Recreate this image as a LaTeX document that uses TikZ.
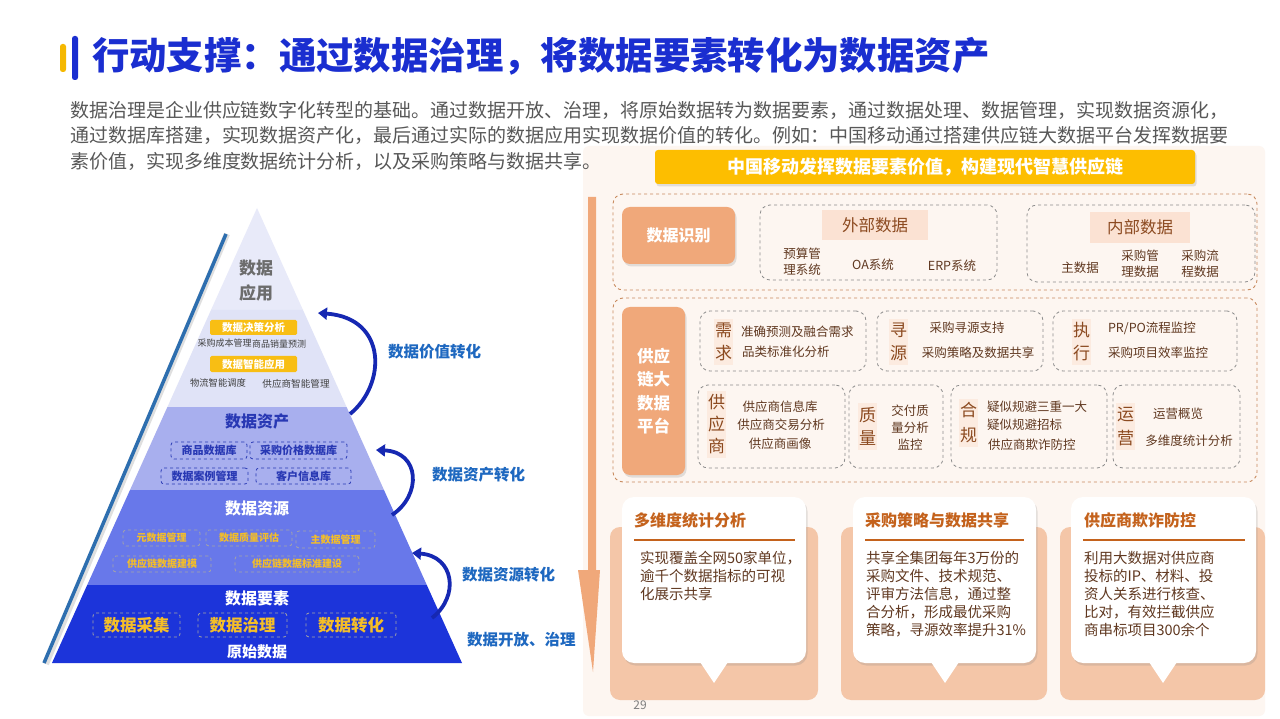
\documentclass[tikz,border=0pt]{standalone}
\usepackage{fontspec}
\setmainfont{Noto Sans CJK SC}
\usetikzlibrary{shadows,arrows.meta}
\definecolor{tblue}{RGB}{26,46,208}
\definecolor{tyel}{RGB}{245,184,0}
\definecolor{ptxt}{RGB}{88,88,88}
\definecolor{lay1}{RGB}{232,234,249}
\definecolor{lay1b}{RGB}{224,227,247}
\definecolor{lay2}{RGB}{168,175,238}
\definecolor{lay3}{RGB}{104,120,234}
\definecolor{lay4}{RGB}{28,52,218}
\definecolor{arrblue}{RGB}{22,40,178}
\definecolor{lblue}{RGB}{30,104,192}
\definecolor{stripe}{RGB}{45,110,175}
\definecolor{ybar}{RGB}{248,190,20}
\definecolor{yeltxt}{RGB}{244,190,40}
\definecolor{dblue}{RGB}{40,56,180}
\definecolor{panel}{RGB}{253,246,241}
\definecolor{salmon}{RGB}{240,168,122}
\definecolor{odash}{RGB}{200,138,94}
\definecolor{gdash}{RGB}{140,140,140}
\definecolor{tagfill}{RGB}{251,226,211}
\definecolor{brown}{RGB}{140,74,32}
\definecolor{dbrown}{RGB}{96,56,32}
\definecolor{peach}{RGB}{244,198,168}
\definecolor{orhead}{RGB}{196,98,28}
\definecolor{banner}{RGB}{253,190,0}
\newcommand\fsz[2]{\fontsize{#1}{#2}\selectfont}
\newcommand\RB[6]{\node[#6, inner sep=0pt, outer sep=0pt, minimum width={(#4)-(#2)}, minimum height={(#5)-(#3)}] (#1) at ({((#2)+(#4))/2},{((#3)+(#5))/2}) {};}
\tikzset{
  tx/.style={inner sep=0pt, outer sep=0pt},
  shad/.style={drop shadow={opacity=0.22, shadow xshift=1.5pt, shadow yshift=-2.5pt}},
  ybox/.style={fill=ybar, rounded corners=1.5},
  bdash/.style={draw=dblue, dashed, line width=0.8pt, rounded corners=3},
  gbox/.style={draw=gray!70, dashed, line width=0.8pt, rounded corners=3},
  odbox/.style={draw=odash, dashed, line width=0.9pt, rounded corners=10},
  gdbox/.style={draw=gdash, dashed, line width=0.8pt, rounded corners=10},
  tagbox/.style={fill=tagfill},
  sbox/.style={fill=salmon, rounded corners=8},
  carrow/.style={arrblue, line width=3.8pt, -{Triangle[length=9pt,width=12pt]}},
  lbl/.style={tx, anchor=west, text=lblue, font=\fsz{15.5}{18}\bfseries},
  itm/.style={tx, text=dbrown, font=\fsz{12.5}{16}},
  big/.style={tx, text=brown, align=center, font=\fsz{17}{23}},
  body/.style={tx, anchor=north west, align=left, text=dbrown, font=\fsz{14.5}{18}},
  chead/.style={tx, anchor=west, text=orhead, font=\fsz{16}{19}\bfseries},
}
\begin{document}
\begin{tikzpicture}[x=1pt,y=-1pt]
\useasboundingbox (0,0) rectangle (1280,719);
\fill[white] (0,0) rectangle (1280,719);
% ---------- right panel background ----------
\fill[panel, rounded corners=6] (583,146) rectangle (1265,716);
% ---------- title ----------
\fill[tyel, rounded corners=2.5] (60,44) rectangle (66,72);
\fill[tblue, rounded corners=2.5] (72,36) rectangle (78,80);
\node[tx, anchor=west, text=tblue, font=\fsz{37.4}{42}\bfseries] (title) at (92,56) {行动支撑：通过数据治理，将数据要素转化为数据资产};
\node[tx, anchor=west, text=ptxt, font=\fsz{19}{23}] (p1) at (70,110) {数据治理是企业供应链数字化转型的基础。通过数据开放、治理，将原始数据转为数据要素，通过数据处理、数据管理，实现数据资源化，};
\node[tx, anchor=west, text=ptxt, font=\fsz{19}{23}] (p2) at (70,135.5) {通过数据库搭建，实现数据资产化，最后通过实际的数据应用实现数据价值的转化。例如：中国移动通过搭建供应链大数据平台发挥数据要};
\node[tx, anchor=west, text=ptxt, font=\fsz{19}{23}] (p3) at (70,161) {素价值，实现多维度数据统计分析，以及采购策略与数据共享。};
% ---------- pyramid ----------
\fill[lay1] (257,208) -- (303,310) -- (211,310) -- cycle;
\fill[lay1b] (211,310) -- (303,310) -- (346.6,407) -- (167.4,407) -- cycle;
\fill[lay2] (167.4,407) -- (346.6,407) -- (384,490) -- (130,490) -- cycle;
\fill[lay3] (130,490) -- (384,490) -- (426.8,585) -- (87.2,585) -- cycle;
\fill[lay4] (87.2,585) -- (426.8,585) -- (462,663) -- (52,663) -- cycle;
\draw[gray!25, line width=6pt] (46,664) -- (227,234);
\draw[stripe, line width=3.5pt] (44,663) -- (226,234);
% top layer
\node[tx, text=gray!85!black, align=center, font=\fsz{17}{25}\bfseries] (app) at (256,281) {数据\\应用};
\RB{yb1}{210}{320}{297}{335}{ybox}
\node[tx, text=white, font=\fsz{10.5}{12}\bfseries] (yb1t) at (yb1) {数据决策分析};
\node[tx, text=black!75, font=\fsz{9}{11}] (a1) at (224.5,343.5) {采购成本管理};
\node[tx, text=black!75, font=\fsz{9}{11}] (a2) at (279,344) {商品销量预测};
\RB{yb2}{210}{356}{297}{372}{ybox}
\node[tx, text=white, font=\fsz{10.5}{12}\bfseries] (yb2t) at (yb2) {数据智能应用};
\node[tx, text=black!75, font=\fsz{9.3}{11}] (a3) at (218,383) {物流智能调度};
\node[tx, text=black!75, font=\fsz{9.6}{11}] (a4) at (296,384) {供应商智能管理};
% asset layer
\node[tx, text=dblue, font=\fsz{16}{19}\bfseries] (asset) at (257,421) {数据资产};
\RB{b1}{171}{442}{247}{459}{bdash}
\RB{b2}{250}{442}{347}{459}{bdash}
\RB{b3}{161}{468}{248}{484}{bdash}
\RB{b4}{256}{468}{351}{484}{bdash}
\node[tx, text=dblue, font=\fsz{11}{13}\bfseries] at (b1) {商品数据库};
\node[tx, text=dblue, font=\fsz{11}{13}\bfseries] at (b2) {采购价格数据库};
\node[tx, text=dblue, font=\fsz{11}{13}\bfseries] at (b3) {数据案例管理};
\node[tx, text=dblue, font=\fsz{11}{13}\bfseries] at (b4) {客户信息库};
% resource layer
\node[tx, text=white, font=\fsz{16}{19}\bfseries] (res) at (257,508) {数据资源};
\RB{r1}{123}{530}{200}{546}{gbox}
\RB{r2}{206}{530}{292}{546}{gbox}
\RB{r3}{296}{531}{375}{548}{gbox}
\RB{r4}{113}{556}{211}{572}{gbox}
\RB{r5}{235}{556}{359}{572}{gbox}
\node[tx, text=yeltxt, font=\fsz{10}{12}\bfseries] at (r1) {元数据管理};
\node[tx, text=yeltxt, font=\fsz{10}{12}\bfseries] at (r2) {数据质量评估};
\node[tx, text=yeltxt, font=\fsz{10}{12}\bfseries] at (r3) {主数据管理};
\node[tx, text=yeltxt, font=\fsz{10}{12}\bfseries] at (r4) {供应链数据建模};
\node[tx, text=yeltxt, font=\fsz{10}{12}\bfseries] at (r5) {供应链数据标准建设};
% element layer
\node[tx, text=white, font=\fsz{16}{19}\bfseries] (elem) at (257,598) {数据要素};
\RB{e1}{93}{613}{180}{637}{gbox}
\RB{e2}{198}{613}{287}{637}{gbox}
\RB{e3}{306}{613}{396}{637}{gbox}
\node[tx, text=yeltxt, font=\fsz{16.5}{19}\bfseries] at (e1) {数据采集};
\node[tx, text=yeltxt, font=\fsz{16.5}{19}\bfseries] at (e2) {数据治理};
\node[tx, text=yeltxt, font=\fsz{16.5}{19}\bfseries] at (e3) {数据转化};
\node[tx, text=white, font=\fsz{15}{18}\bfseries] (raw) at (257,652) {原始数据};
% curved arrows
\coordinate (s1) at (350,414); \coordinate (t1) at (318,313);
\coordinate (s2) at (392,515); \coordinate (t2) at (376,450);
\coordinate (s3) at (432,618); \coordinate (t3) at (412,553);
\draw[carrow] (s1) .. controls (386,385) and (388,318) .. (t1);
\draw[carrow] (s2) .. controls (422,495) and (420,452) .. (t2);
\draw[carrow] (s3) .. controls (460,596) and (454,556) .. (t3);
\node[lbl] (l1) at (388,352) {数据价值转化};
\node[lbl] (l2) at (432,475) {数据资产转化};
\node[lbl] (l3) at (462,575) {数据资源转化};
\node[lbl] (l4) at (467,640) {数据开放、治理};
% ---------- right panel ----------
\fill[salmon] (588,197) -- (596,197) -- (596,570) -- (600,570) -- (593,672) -- (578,570) -- (588,570) -- cycle;
\RB{ban}{655}{150}{1195}{184}{fill=banner, rounded corners=3, shad}
\node[tx, text=white, font=\fsz{18}{21}\bfseries] (bant) at (ban) {中国移动发挥数据要素价值，构建现代智慧供应链};
% row: data identification
\RB{o1}{613}{194}{1257}{290}{odbox}
\RB{di}{622}{207}{735}{264}{sbox, shad}
\node[tx, text=white, font=\fsz{16}{19}\bfseries] at (di) {数据识别};
\RB{ext}{760}{205}{997}{280}{gdbox}
\RB{extt}{822}{210}{928}{240}{tagbox}
\node[tx, text=brown, font=\fsz{16.5}{19}] at (extt) {外部数据};
\node[itm, align=center] (x1) at (802,262) {预算管\\理系统};
\node[itm] (x2) at (873,265) {OA系统};
\node[itm] (x3) at (952,266) {ERP系统};
\RB{int}{1027}{205}{1255}{282}{gdbox}
\RB{intt}{1090}{212}{1190}{243}{tagbox}
\node[tx, text=brown, font=\fsz{16.5}{19}] at (intt) {内部数据};
\node[itm] (y1) at (1080,268) {主数据};
\node[itm, align=center] (y2) at (1140,264) {采购管\\理数据};
\node[itm, align=center] (y3) at (1200,264) {采购流\\程数据};
% row: platform
\RB{o2}{613}{298}{1257}{482}{odbox}
\RB{plat}{622}{307}{685}{475}{sbox, shad}
\node[tx, text=white, align=center, font=\fsz{16.5}{23.5}\bfseries] at (plat) {供应\\链大\\数据\\平台};
% demand
\RB{m1}{700}{311}{866}{371}{gdbox}
\RB{m1t}{714}{319}{733}{365}{fill=tagfill!70}
\node[big] at (m1t) {需\\求};
\node[itm, anchor=west] at (741,332) {准确预测及融合需求};
\node[itm, anchor=west] at (742,352) {品类标准化分析};
% sourcing
\RB{m2}{877}{311}{1043}{371}{gdbox}
\RB{m2t}{889}{319}{908}{365}{fill=tagfill!70}
\node[big] at (m2t) {寻\\源};
\node[itm] at (967,328) {采购寻源支持};
\node[itm] at (978,353) {采购策略及数据共享};
% execution
\RB{m3}{1053}{311}{1237}{371}{gdbox}
\RB{m3t}{1072}{319}{1091}{365}{fill=tagfill!70}
\node[big] at (m3t) {执\\行};
\node[itm, anchor=west] at (1108,328) {PR/PO流程监控};
\node[itm, anchor=west] at (1108,353) {采购项目效率监控};
% supplier
\RB{n1}{698}{385}{845}{468}{gdbox}
\RB{n1t}{707}{391}{726}{458}{fill=tagfill!70}
\node[big, font=\fsz{17}{22}] at (n1t) {供\\应\\商};
\node[itm] at (780,407) {供应商信息库};
\node[itm] at (781,425) {供应商交易分析};
\node[itm] at (780,444) {供应商画像};
% quality
\RB{n2}{849}{385}{943}{468}{gdbox}
\RB{n2t}{858}{403}{877}{450}{fill=tagfill!70}
\node[big] at (n2t) {质\\量};
\node[itm, align=center, font=\fsz{12.5}{17}] at (910,428) {交付质\\量分析\\监控};
% compliance
\RB{n3}{951}{385}{1107}{468}{gdbox}
\RB{n3t}{959}{399}{978}{447}{fill=tagfill!70}
\node[big, font=\fsz{17}{25}] at (n3t) {合\\规};
\node[itm, anchor=west] at (987,407) {疑似规避三重一大};
\node[itm, anchor=west] at (987,425) {疑似规避招标};
\node[itm, anchor=west] at (988,445) {供应商欺诈防控};
% operation
\RB{n4}{1113}{385}{1240}{468}{gdbox}
\RB{n4t}{1116}{403}{1135}{450}{fill=tagfill!70}
\node[big, font=\fsz{17}{24}] at (n4t) {运\\营};
\node[itm] at (1178,414) {运营概览};
\node[itm] at (1189,441) {多维度统计分析};
% ---------- bottom cards ----------
\fill[peach, rounded corners=10] (610,527) rectangle (818,700);
\fill[peach, rounded corners=10] (841,527) rectangle (1047,700);
\fill[peach, rounded corners=10] (1060,527) rectangle (1265,700);
\RB{c1}{622}{497}{806}{663}{fill=white, rounded corners=12, shad}
\RB{c2}{853}{497}{1036}{663}{fill=white, rounded corners=12, shad}
\RB{c3}{1071}{497}{1256}{663}{fill=white, rounded corners=12, shad}
\fill[white] (700,662) -- (728,662) -- (714,683) -- cycle;
\fill[white] (931,662) -- (959,662) -- (945,683) -- cycle;
\fill[white] (1149,662) -- (1177,662) -- (1163,683) -- cycle;
\node[chead] (h1) at (634,520) {多维度统计分析};
\node[chead] (h2) at (865,520) {采购策略与数据共享};
\node[chead] (h3) at (1084,520) {供应商欺诈防控};
\draw[orhead, line width=2.5pt] (634,540) -- (795,540);
\draw[orhead, line width=2.5pt] (865,540) -- (1024,540);
\draw[orhead, line width=2.5pt] (1083,540) -- (1245,540);
\node[body] (bd1) at (640,551) {实现覆盖全网50家单位，\\逾千个数据指标的可视\\化展示共享};
\node[body] (bd2) at (866,551) {共享全集团每年3万份的\\采购文件、技术规范、\\评审方法信息，通过整\\合分析，形成最优采购\\策略，寻源效率提升31\%};
\node[body] (bd3) at (1084,551) {利用大数据对供应商\\投标的IP、材料、投\\资人关系进行核查、\\比对，有效拦截供应\\商串标项目300余个};
\node[tx, text=gray, font=\fsz{12}{14}] (pg) at (640,705) {29};
\end{tikzpicture}
\end{document}
